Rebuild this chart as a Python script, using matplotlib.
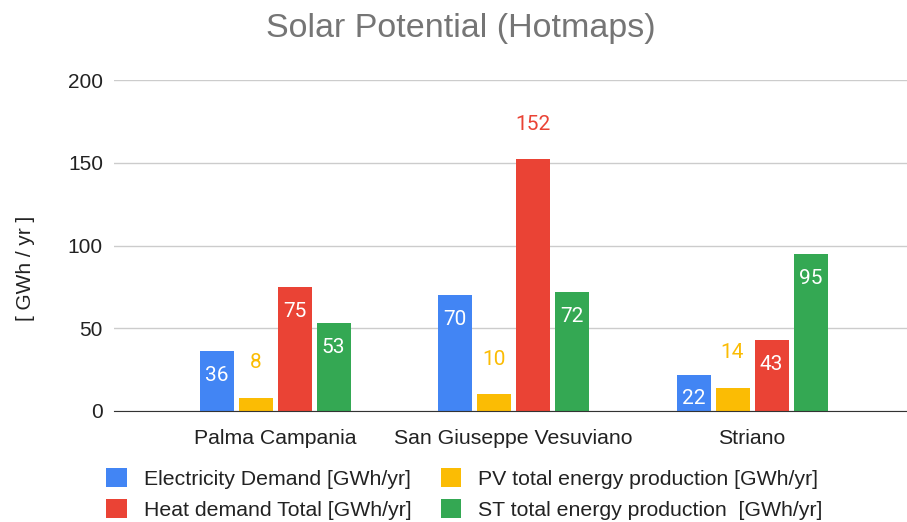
import matplotlib
matplotlib.use("Agg")
import matplotlib.pyplot as plt
import numpy as np

categories = ["Palma Campania", "San Giuseppe Vesuviano", "Striano"]
series_names = ["Electricity Demand [GWh/yr]", "PV total energy production [GWh/yr]",
                "Heat demand Total [GWh/yr]", "ST total energy production  [GWh/yr]"]
electricity = [36, 70, 22]
pv = [8, 10, 14]
heat = [75, 152, 43]
st = [53, 72, 95]
yticks = [0, 50, 100, 150, 200]

series = [electricity, pv, heat, st]
colors = ["#4285F4", "#FBBC04", "#EA4335", "#34A853"]
# which labels sit above the bar (outside) rather than inside
outside = [[False, False, False], [True, True, True], [False, True, False], [False, False, False]]

fig = plt.figure(figsize=(9.07, 5.22), dpi=100)
ax = fig.add_axes([114/907, 1-411/522, 1-114/907, (411-80)/522])

x = np.arange(len(categories))
step = 39/238.5
width = 34/238.5
offsets = (np.arange(4) - 1.5) * step

for i, (vals, col) in enumerate(zip(series, colors)):
    bars = ax.bar(x + offsets[i], vals, width, color=col, zorder=3, label=series_names[i])
    for j, (b, v) in enumerate(zip(bars, vals)):
        cx = b.get_x() + b.get_width()/2
        if outside[i][j]:
            ax.annotate(str(v), (cx, v), xytext=(0, 25.5), textcoords="offset points",
                        ha="center", va="center", color=col, fontsize=15, family="Roboto")
        else:
            ax.annotate(str(v), (cx, v), xytext=(0, -17.5), textcoords="offset points",
                        ha="center", va="center", color="white", fontsize=15, family="Roboto")

ax.set_ylim(0, 200)
ax.set_xlim((114-275)/238.5, 2 + (907-752)/238.5)
ax.set_yticks(yticks)
ax.set_yticklabels([str(t) for t in yticks], fontsize=15, family="Liberation Sans", color="#222222")
ax.set_xticks(x)
ax.set_xticklabels(categories, fontsize=15.3, family="Liberation Sans", color="#222222")
ax.tick_params(axis="both", length=0)
ax.tick_params(axis="y", pad=8)
ax.tick_params(axis="x", pad=13)
ax.grid(axis="y", color="#cccccc", linewidth=1, zorder=0)
for s in ["top", "right", "left"]:
    ax.spines[s].set_visible(False)
ax.spines["bottom"].set_color("#333333")
ax.spines["bottom"].set_zorder(4)

ax.set_ylabel("[ GWh / yr ]", fontsize=15, family="Liberation Sans", color="#222222")
ax.yaxis.set_label_coords((35-114)/793, 0.432)

fig.text(461/907, 1-28/522, "Solar Potential (Hotmaps)", ha="center", va="center",
         fontsize=24.5, color="#757575", family="Liberation Sans")

handles, labels = ax.get_legend_handles_labels()
order = [0, 2, 1, 3]
leg = fig.legend([handles[k] for k in order], [labels[k] for k in order], ncol=2,
                 loc="center", bbox_to_anchor=(464.5/907, 1-494/522), frameon=False,
                 prop={"family": "Liberation Sans", "size": 15.3},
                 handlelength=0.95, handleheight=0.95, handletextpad=0.8,
                 columnspacing=1.4, labelspacing=0.5, borderpad=0)
for t in leg.get_texts():
    t.set_color("#222222")

fig.savefig("out.png", dpi=100)
